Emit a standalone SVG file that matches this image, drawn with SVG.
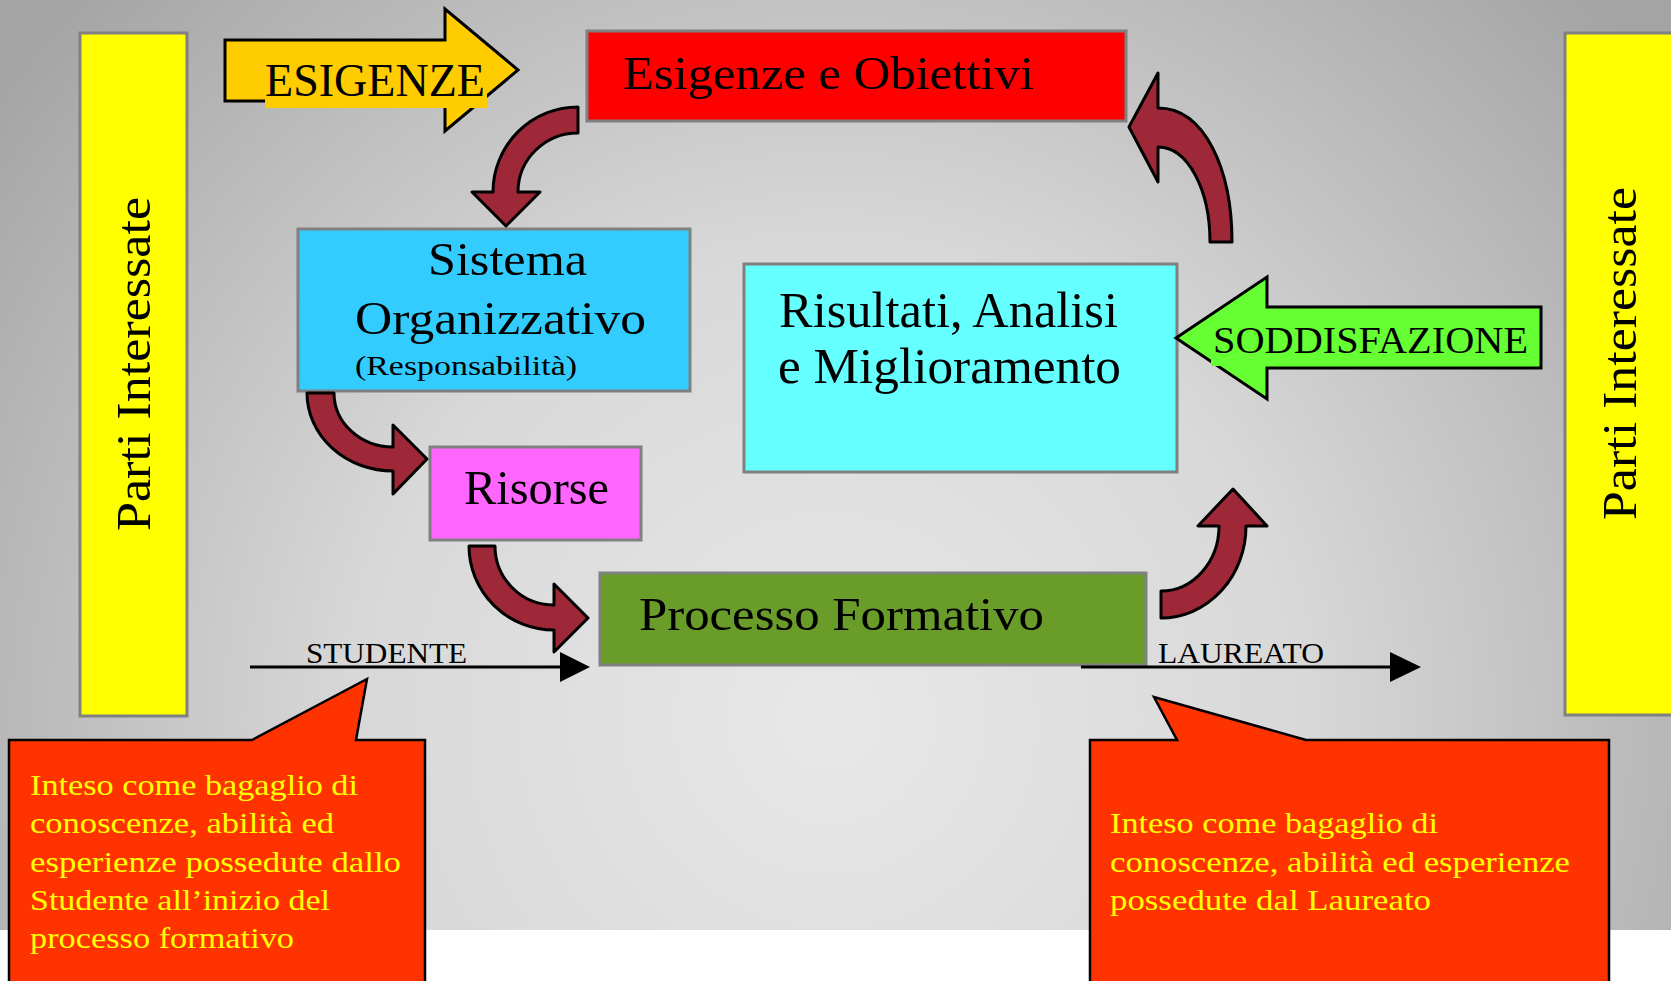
<svg xmlns="http://www.w3.org/2000/svg" width="1671" height="981" viewBox="0 0 1671 981">
  <defs>
    <radialGradient id="bg" gradientUnits="userSpaceOnUse" cx="830" cy="720" r="1050">
      <stop offset="0" stop-color="#e8e8e8"/>
      <stop offset="0.45" stop-color="#d8d8d8"/>
      <stop offset="1" stop-color="#a4a4a4"/>
    </radialGradient>
  </defs>
  <style>
    .t { font-family: "Liberation Serif", "Times New Roman", serif; fill: #000; }
    .box { stroke: #808080; stroke-width: 3; }
    .bar { fill: #ffff00; stroke: #808080; stroke-width: 3; }
    .curv { fill: #9e2837; stroke: #000; stroke-width: 3; stroke-linejoin: round; }
    .blk { stroke: #000; stroke-width: 3; stroke-linejoin: miter; }
    .line { stroke: #000; stroke-width: 3; fill: none; }
    .head { fill: #000; }
    .call { fill: #ff3300; stroke: #000; stroke-width: 2.5; }
    .ct { font-family: "Liberation Serif", "Times New Roman", serif; fill: #ffff00; font-size: 30px; }
  </style>

  <rect x="0" y="0" width="1671" height="930" fill="url(#bg)"/>
  <rect x="0" y="930" width="1671" height="51" fill="#ffffff"/>

  <g id="parti-sx">
    <rect class="bar" x="80" y="33" width="107" height="683"/>
    <text class="t" font-size="48" transform="translate(150,531) rotate(-90)" textLength="334" lengthAdjust="spacingAndGlyphs">Parti Interessate</text>
  </g>

  <g id="parti-dx">
    <rect class="bar" x="1565" y="33" width="120" height="682"/>
    <text class="t" font-size="48" transform="translate(1636,520) rotate(-90)" textLength="333" lengthAdjust="spacingAndGlyphs">Parti Interessate</text>
  </g>

  <g id="esigenze-arrow">
    <path class="blk" fill="#ffcc00" d="M225,40 L445,40 L445,9 L518,70 L445,131 L445,101 L225,101 Z"/>
    <rect x="265" y="57" width="222" height="51" fill="#ffcc00"/>
    <text class="t" x="265" y="96" font-size="46" textLength="220" lengthAdjust="spacingAndGlyphs">ESIGENZE</text>
  </g>

  <g id="esigenze-obiettivi">
    <rect class="box" fill="#ff0000" x="587" y="31" width="539" height="90"/>
    <text class="t" x="623" y="89" font-size="47" textLength="411" lengthAdjust="spacingAndGlyphs">Esigenze e Obiettivi</text>
  </g>

  <g id="sistema">
    <rect class="box" fill="#33ccff" x="298" y="229" width="392" height="162"/>
    <text class="t" x="428" y="275" font-size="46" textLength="159" lengthAdjust="spacingAndGlyphs">Sistema</text>
    <text class="t" x="355" y="334" font-size="46" textLength="291" lengthAdjust="spacingAndGlyphs">Organizzativo</text>
    <text class="t" x="355" y="375" font-size="28" textLength="222" lengthAdjust="spacingAndGlyphs">(Responsabilità)</text>
  </g>

  <g id="risorse">
    <rect class="box" fill="#ff66ff" x="430" y="447" width="211" height="93"/>
    <text class="t" x="464" y="504" font-size="49" textLength="145" lengthAdjust="spacingAndGlyphs">Risorse</text>
  </g>

  <g id="processo">
    <rect class="box" fill="#6a9c2a" x="600" y="573" width="546" height="92"/>
    <text class="t" x="639" y="630" font-size="46" textLength="405" lengthAdjust="spacingAndGlyphs">Processo Formativo</text>
  </g>

  <g id="risultati">
    <rect class="box" fill="#66ffff" x="744" y="264" width="433" height="208"/>
    <text class="t" x="779" y="327" font-size="50" textLength="339" lengthAdjust="spacingAndGlyphs">Risultati, Analisi</text>
    <text class="t" x="778" y="383" font-size="50" textLength="343" lengthAdjust="spacingAndGlyphs">e Miglioramento</text>
  </g>

  <g id="soddisfazione-arrow">
    <path class="blk" fill="#66ff33" d="M1541,307 L1267,307 L1267,277 L1176,338 L1267,399 L1267,368 L1541,368 Z"/>
    <rect x="1211" y="322" width="319" height="44" fill="#66ff33"/>
    <text class="t" x="1213" y="353" font-size="38" textLength="315" lengthAdjust="spacingAndGlyphs">SODDISFAZIONE</text>
  </g>

  <g id="connectors">
    <path class="curv" d="M578,107 A85,85 0 0 0 493,192 L472,192 L506,226 L540,192 L518,192 A60,59 0 0 1 578,133 Z"/>
    <path class="curv" d="M307,393 A86,78 0 0 0 393,471 L393,494 L427,459 L393,425 L393,447 A59,54 0 0 1 334,393 Z"/>
    <path class="curv" d="M469,546 A85,84 0 0 0 554,630 L554,652 L588,618 L554,584 L554,605 A59,59 0 0 1 495,546 Z"/>
    <path class="curv" d="M1161,618 A85,92 0 0 0 1246,526 L1267,526 L1233,489 L1198,526 L1219,526 A58,65 0 0 1 1161,591 Z"/>
    <path class="curv" d="M1232,242 C1232,170 1205,108 1158,108 L1158,73 L1129,127 L1158,182 L1158,147 C1188,147 1210,190 1210,242 Z"/>

    <line class="line" x1="250" y1="667" x2="562" y2="667"/>
    <polygon class="head" points="560,652 590,667 560,682"/>
    <text class="t" x="306" y="663" font-size="30" textLength="161" lengthAdjust="spacingAndGlyphs">STUDENTE</text>

    <line class="line" x1="1081" y1="667" x2="1392" y2="667"/>
    <polygon class="head" points="1390,652 1421,667 1390,682"/>
    <text class="t" x="1158" y="663" font-size="30" textLength="166" lengthAdjust="spacingAndGlyphs">LAUREATO</text>
  </g>

  <g id="nota-studente">
    <path class="call" d="M9,740 L252,740 L367,679 L356,740 L425,740 L425,995 L9,995 Z"/>
    <text class="ct" x="30" y="795" textLength="328" lengthAdjust="spacingAndGlyphs">Inteso come bagaglio di</text>
    <text class="ct" x="30" y="833" textLength="304" lengthAdjust="spacingAndGlyphs">conoscenze, abilità ed</text>
    <text class="ct" x="30" y="872" textLength="371" lengthAdjust="spacingAndGlyphs">esperienze possedute dallo</text>
    <text class="ct" x="30" y="910" textLength="300" lengthAdjust="spacingAndGlyphs">Studente all’inizio del</text>
    <text class="ct" x="30" y="948" textLength="264" lengthAdjust="spacingAndGlyphs">processo formativo</text>
  </g>

  <g id="nota-laureato">
    <path class="call" d="M1090,740 L1177,740 L1154,697 L1306,740 L1609,740 L1609,995 L1090,995 Z"/>
    <text class="ct" x="1110" y="833" textLength="328" lengthAdjust="spacingAndGlyphs">Inteso come bagaglio di</text>
    <text class="ct" x="1110" y="872" textLength="460" lengthAdjust="spacingAndGlyphs">conoscenze, abilità ed esperienze</text>
    <text class="ct" x="1110" y="910" textLength="321" lengthAdjust="spacingAndGlyphs">possedute dal Laureato</text>
  </g>
</svg>
